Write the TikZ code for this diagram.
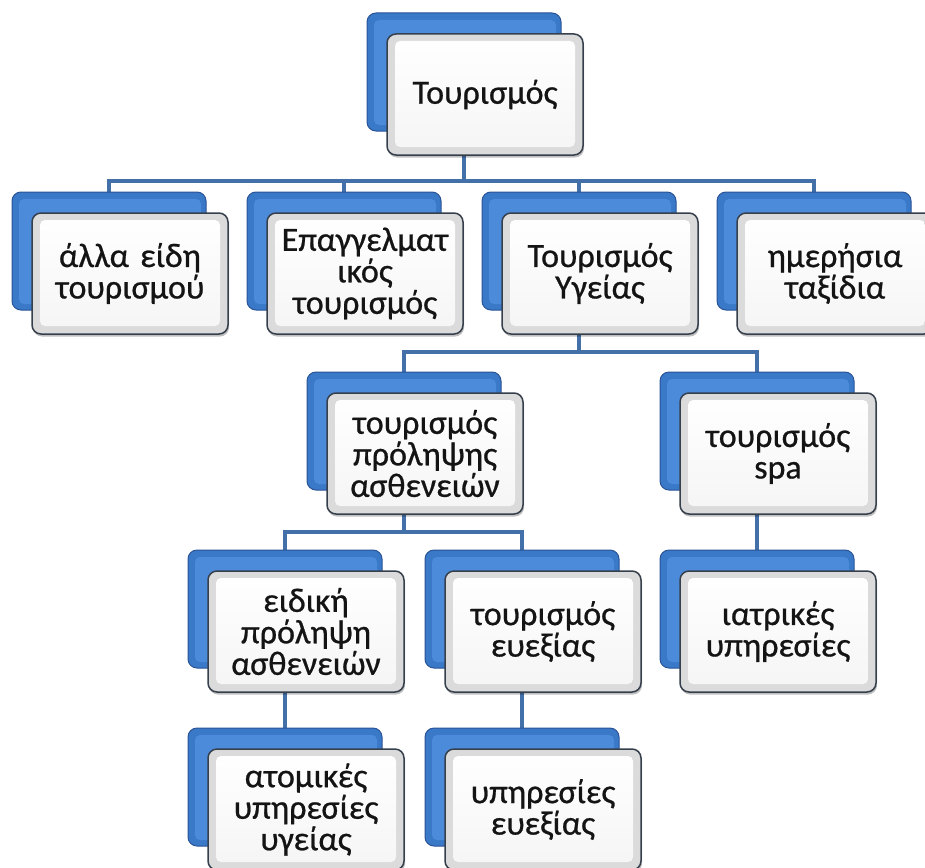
\documentclass[tikz,border=0pt]{standalone}
\usepackage{fontspec}
\setmainfont{Carlito}
\newfontfamily\boxfont{Carlito}[BoldFont=Carlito, BoldFeatures={FakeBold=0.7}]
\usetikzlibrary{backgrounds,shadows,calc}
\definecolor{connc}{HTML}{4370A8}
\definecolor{backfill}{HTML}{3A78C8}
\definecolor{backface}{HTML}{4C8ADA}
\definecolor{backedge}{HTML}{2A5496}
\definecolor{frontedge}{HTML}{36404C}
\definecolor{txt}{HTML}{141414}
\tikzset{
  backbox/.style={anchor=north west, minimum width=194pt, minimum height=118pt,
    inner sep=0pt, outer sep=0pt, rounded corners=9pt, fill=backfill, draw=backedge, line width=1pt,
    path picture={\fill[backface, rounded corners=5pt]
      ([shift={(7pt,6pt)}]path picture bounding box.south west) rectangle
      ([shift={(-5pt,-7pt)}]path picture bounding box.north east);}},
  frontbox/.style={anchor=north west, minimum width=196pt, minimum height=121pt,
    text width=190pt, align=center, inner sep=0pt, outer sep=0pt,
    rounded corners=9pt, fill=black!14, draw=frontedge, line width=1.5pt,
    font=\boxfont\bfseries\fontsize{34}{31.5}\selectfont, text=txt,
    drop shadow={shadow xshift=1pt, shadow yshift=-2.5pt, opacity=0.25, fill=black},
    path picture={\shade[top color=white, bottom color=black!4, rounded corners=5pt]
      ([shift={(8pt,8pt)}]path picture bounding box.south west) rectangle
      ([shift={(-8pt,-7pt)}]path picture bounding box.north east);}},
  conn/.style={draw=connc, line width=4.5pt}
}
\newcommand\duobox[4]{%
  \node[backbox] (#1b) at (#2,#3) {};
  \node[frontbox] (#1) at ($(#2,#3)+(20,21)$) {#4};}
\begin{document}
\begin{tikzpicture}[x=1pt,y=-1pt]
\useasboundingbox (0,0) rectangle (925,867);
\duobox{root}{367}{13}{Τουρισμός}
\duobox{a}{12}{192}{άλλα είδη\\τουρισμού}
\duobox{b}{247}{192}{Επαγγελματ\\ικός\\τουρισμός}
\duobox{c}{482}{192}{Τουρισμός\\Υγείας}
\duobox{d}{717}{192}{ημερήσια\\ταξίδια}
\duobox{e}{307}{372}{τουρισμός\\πρόληψης\\ασθενειών}
\duobox{f}{660}{372}{τουρισμός\\spa}
\duobox{g}{188}{550}{ειδική\\πρόληψη\\ασθενειών}
\duobox{h}{425}{550}{τουρισμός\\ευεξίας}
\duobox{i}{660}{550}{ιατρικές\\υπηρεσίες}
\duobox{j}{188}{728}{ατομικές\\υπηρεσίες\\υγείας}
\duobox{k}{425}{728}{υπηρεσίες\\ευεξίας}
\coordinate (bus1) at (0,181);
\coordinate (bus2) at (0,352);
\coordinate (bus3) at (0,532);
\begin{pgfonlayer}{background}
\fill[white] (0,0) rectangle (925,867);
\foreach \ch in {a,b,c,d}
  \draw[conn] (rootb.center) -- (rootb.center |- bus1) -| (\ch b.center);
\foreach \ch in {e,f}
  \draw[conn] (cb.center) -- (cb.center |- bus2) -| (\ch b.center);
\foreach \ch in {g,h}
  \draw[conn] (eb.center) -- (eb.center |- bus3) -| (\ch b.center);
\draw[conn] (gb.center) -- (jb.center);
\draw[conn] (hb.center) -- (kb.center);
\draw[conn] (fb.center) -- (ib.center);
\end{pgfonlayer}
\end{tikzpicture}
\end{document}
